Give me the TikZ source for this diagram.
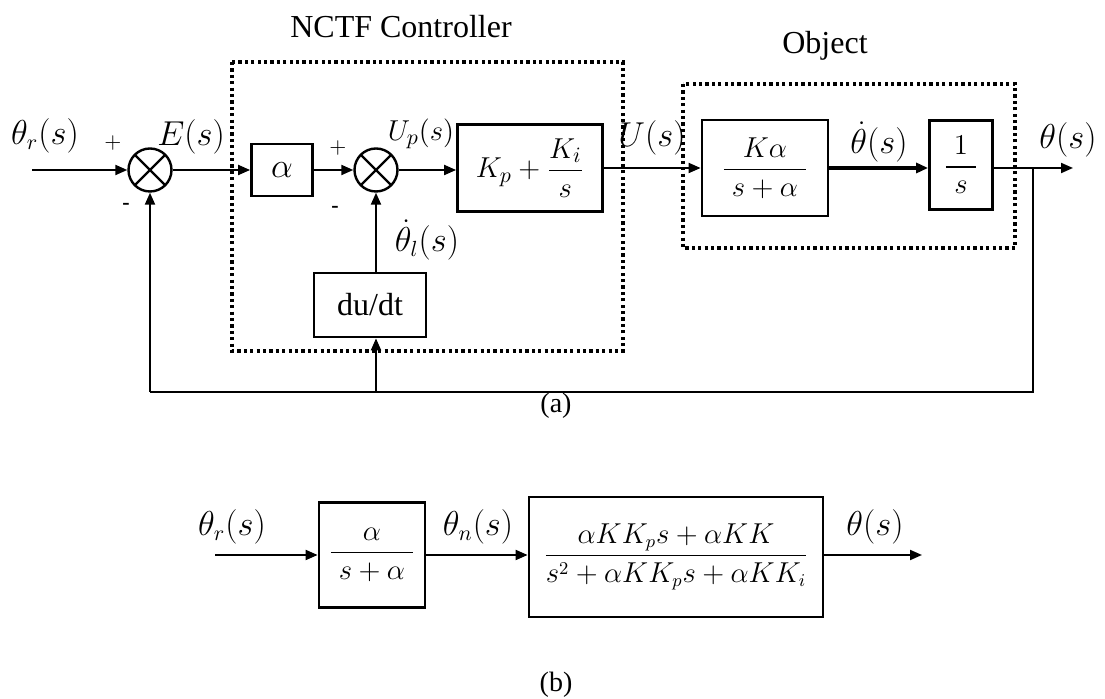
\documentclass[tikz,border=0pt]{standalone}
\usepackage{amsmath}
\usepackage{fontspec}
\setmainfont{Liberation Serif}
\newfontfamily\tnr{Liberation Serif}
\usetikzlibrary{arrows.meta,calc}
\tikzset{
  sig/.style={line width=1pt,-{Triangle[length=6pt,width=5pt]}},
  wire/.style={line width=1pt},
  blk/.style={draw,line width=1.4pt,inner sep=0pt,fill=white},
  sumn/.style={circle,draw,line width=1.2pt,minimum size=21.5pt,inner sep=0pt,
    path picture={\draw[line width=1.2pt]
      (path picture bounding box.north west) -- (path picture bounding box.south east)
      (path picture bounding box.north east) -- (path picture bounding box.south west);}},
  grp/.style={draw,line width=1.6pt,dash pattern=on 1.6pt off 1.6pt},
  lbl/.style={font=\fontsize{16}{18}\selectfont,inner sep=0pt},
  sgn/.style={font=\fontsize{11}{12}\selectfont,inner sep=0pt},
  ttl/.style={font=\tnr\fontsize{16}{18}\selectfont,inner sep=0pt},
  frc/.style={font=\fontsize{14}{16}\selectfont},
}
\begin{document}
\begin{tikzpicture}[x=0.5pt,y=-0.5pt]
\useasboundingbox (0,0) rectangle (1105,699);
% group frames
\draw[grp] (232,62) rectangle (623,351);
\draw[grp] (683,84) rectangle (1015,248);
\node[ttl] (tctl) at (401,27) {NCTF Controller};
\node[ttl] (tobj) at (825,46) {Object};
% top diagram nodes
\coordinate (in1) at (32,170);
\node[sumn] (s1) at (150,170) {};
\node[blk,minimum width=30.5pt,minimum height=26pt,font=\fontsize{16}{18}\selectfont] (alpha) at (282,170) {$\alpha$};
\node[sumn] (s2) at (376,170) {};
\node[blk,minimum width=72.5pt,minimum height=43.5pt,font=\fontsize{15}{17}\selectfont] (kp) at (530,168) {$K_p+\dfrac{K_i}{s}$};
\node[blk,minimum width=63pt,minimum height=48pt,frc] (ka) at (765,168) {$\dfrac{K\alpha}{\;s+\alpha\;}$};
\node[blk,minimum width=31.5pt,minimum height=44.5pt,frc] (inv) at (961,165) {$\dfrac{\;1\;}{s}$};
\node[blk,minimum width=56pt,minimum height=32pt,font=\tnr\fontsize{16}{18}\selectfont] (du) at (370,305) {du/dt};
\coordinate (br) at (1033,168);
\coordinate (out) at (1073,168);
\coordinate (fbr) at (1033,392);
\coordinate (fbl) at (150,392);
\coordinate (fbm) at (376,392);
% top labels
\node[lbl] (lr) at (45,136) {$\theta_r(s)$};
\node[sgn] (p1) at (113,143) {$+$};
\node[lbl] (le) at (191,137) {$E(s)$};
\node[sgn] (m1) at (126,206) {\textbf{-}};
\node[sgn] (p2) at (338,148) {$+$};
\node[sgn] (m2) at (335,209) {\textbf{-}};
\node[lbl,font=\fontsize{15}{17}\selectfont] (lup) at (421,134) {$U_p(s)$};
\node[lbl] (lth) at (427,240) {$\dot{\theta}_l(s)$};
\node[lbl] (lu) at (652,138) {$U(s)$};
\node[lbl] (ltd) at (879,142) {$\dot{\theta}(s)$};
\node[lbl] (lo) at (1068,140) {$\theta(s)$};
% top connectors
\draw[sig] (in1) -- (s1);
\draw[sig] (s1) -- (alpha);
\draw[sig] (alpha) -- (s2);
\draw[sig] (s2) -- (kp.west |- s2);
\draw[sig] (kp) -- (ka);
\draw[sig,line width=1.8pt] (ka) -- (inv.west |- ka);
\draw[sig] (inv.east |- br) -- (out);
\draw[wire] (br) -- (fbr) -- (fbl);
\draw[sig] (fbl) -- (s1);
\draw[sig] (fbm) -- (fbm |- du.south);
\draw[sig] (du.north -| fbm) -- (s2);
\node[font=\tnr\fontsize{14}{16}\selectfont] (ca) at (556,406) {(a)};
% bottom diagram
\coordinate (bin) at (215,555);
\node[blk,minimum width=53pt,minimum height=52.5pt,frc] (ba) at (372,555) {$\dfrac{\alpha}{\;s+\alpha\;}$};
\node[blk,minimum width=147pt,minimum height=60pt,font=\fontsize{13.5}{16}\selectfont] (bg) at (676,557)
  {$\dfrac{\alpha KK_p s+\alpha KK}{s^2+\alpha KK_p s+\alpha KK_i}$};
\coordinate (bout) at (922,555);
\draw[sig] (bin) -- (ba);
\draw[sig] (ba) -- (bg.west |- ba);
\draw[sig] (bg.east |- ba) -- (bout);
\node[lbl] (blr) at (232,527) {$\theta_r(s)$};
\node[lbl] (bln) at (478,527) {$\theta_n(s)$};
\node[lbl] (blo) at (875,527) {$\theta(s)$};
\node[font=\tnr\fontsize{14}{16}\selectfont] (cb) at (556,685) {(b)};
\end{tikzpicture}
\end{document}
